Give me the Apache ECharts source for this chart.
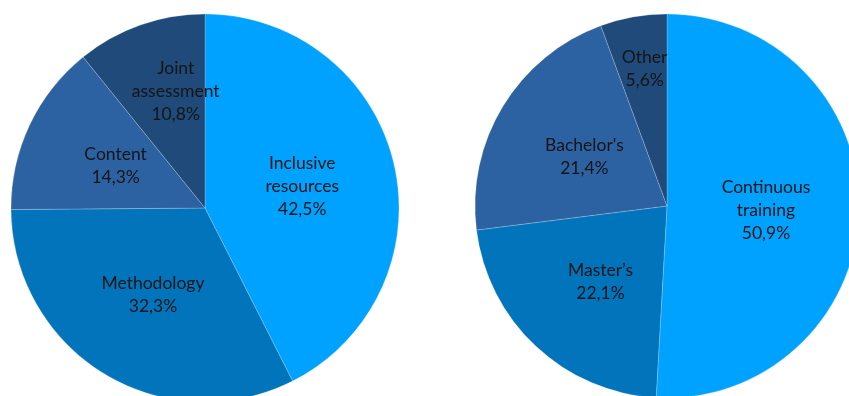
<!DOCTYPE html>
<html><head><meta charset="utf-8">
<script src="https://cdn.jsdelivr.net/npm/echarts@6/dist/echarts.min.js"></script>
<style>html,body{margin:0;padding:0;background:#fff}#c{width:849px;height:396px}</style>
</head><body><div id="c"></div>
<script>
const leftCategories = ['Inclusive\nresources', 'Methodology', 'Content', 'Joint\nassessment'];
const leftValues = [42.5, 32.3, 14.3, 10.8];
const rightCategories = ['Continuous\ntraining', 'Master\u2019s', "Bachelor's", 'Other'];
const rightValues = [50.9, 22.1, 21.4, 5.6];
const colors = ['#00A2FF', '#0174BC', '#2C62A2', '#1F4A7A'];
const leftOffsets = [[0, 2], [0, 1], [1, 1], [4, -22]];
const rightOffsets = [[0, 2], [1, 3], [2, 2], [-5, -40]];

function fmt(v){ return v.toFixed(1).replace('.', ',') + '%'; }
function build(cats, vals, offs){
  return cats.map((n, i) => {
    const d = { name: n, value: vals[i], itemStyle: { color: colors[i] } };
    if (offs[i]) d.label = { offset: offs[i] };
    return d;
  });
}
const labelCfg = {
  show: true, position: 'inside', color: '#151515',
  fontFamily: 'Lato', fontSize: 17.5, lineHeight: 23,
  formatter: p => p.name + '\n' + fmt(p.value)
};
const common = {
  type: 'pie', startAngle: 90, clockwise: true, silent: true, animation: false,
  label: labelCfg, labelLine: { show: false },
  itemStyle: { borderColor: 'rgba(255,255,255,0.35)', borderWidth: 0.6 },
  emphasis: { disabled: true }
};
const chart = echarts.init(document.getElementById('c'), null, { renderer: 'canvas' });
chart.setOption({
  backgroundColor: '#fff',
  series: [
    Object.assign({}, common, { center: [205, 208], radius: [0, 194], data: build(leftCategories, leftValues, leftOffsets) }),
    Object.assign({}, common, { center: [667, 206], radius: [0, 192], data: build(rightCategories, rightValues, rightOffsets) })
  ]
});
</script></body></html>
